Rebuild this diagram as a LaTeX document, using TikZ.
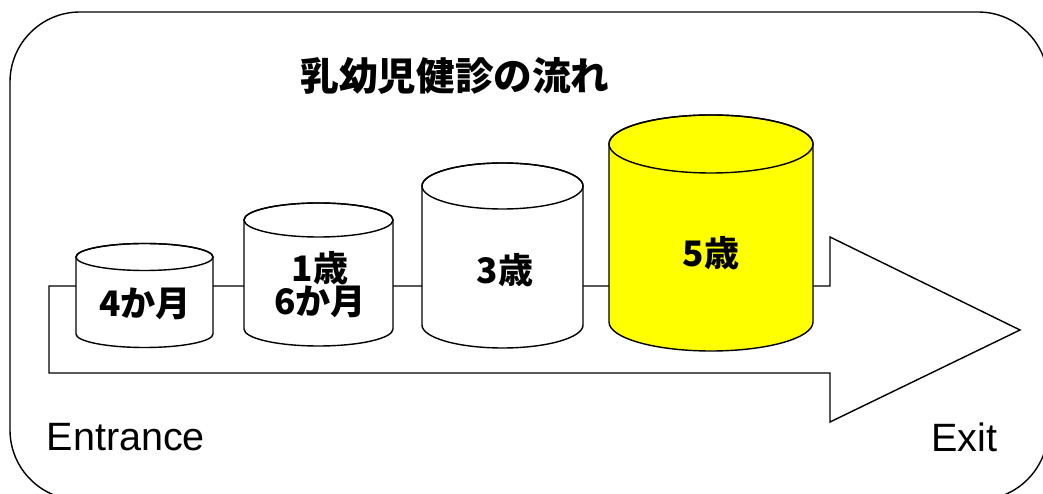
\documentclass[tikz,border=0pt]{standalone}
\usepackage{fontspec}
\setmainfont{Liberation Sans}
\newfontfamily\jp{Noto Sans CJK JP}
\usepackage{tikz}
\usetikzlibrary{calc}
\definecolor{checkyellow}{RGB}{255,255,0}
\def\drum[#1](#2,#3)(#4:#5:#6){\draw[#1] ({#2-#5},#3) -- ({#2-#5},#4) arc[start angle=180, end angle=360, x radius=#5, y radius=#6] -- ({#2+#5},#3) arc[start angle=0, end angle=180, x radius=#5, y radius=#6] -- cycle; \draw (#2,#3) ellipse [x radius=#5, y radius=#6];}
\tikzset{
  agelabel/.style={font=\jp\bfseries\fontsize{20pt}{22pt}\selectfont, align=center, inner sep=0pt},
  endlabel/.style={font=\fontsize{22.5pt}{25pt}\selectfont, inner sep=0pt}
}

\begin{document}
\begin{tikzpicture}[x=0.02cm, y=0.02cm, line width=0.8pt]
			%%%%% FRAME %%%%%
			\useasboundingbox (0, 0) rectangle (1043, 493);
			\draw[rounded corners=1.4cm] (10, -7) rectangle (1048, 481);
			
			\node[font=\jp\bfseries\fontsize{22pt}{24pt}\selectfont] (title) at (455, 417) {乳幼児健診の流れ};
			
			%%%%% ARROW %%%%%
			\draw[fill=white] (49, 207) -- (830, 207) -- (830, 256) -- (1020, 163) -- (830, 71) -- (830, 120) -- (49, 120) -- cycle;
			
			%%%%% DRUMS %%%%%
			\drum[fill=white](144.5,236)(159:68.5:13.5)
			\drum[fill=white](318.5,273)(164:74.5:17)
			\drum[fill=white](502.5,307)(168:80.5:23)
			\drum[fill=checkyellow](711,349)(171:102:29)
			
			\node[agelabel] (m4) at (145, 189) {4か月};
			\node[agelabel] (y1) at (320, 225) {1歳};
			\node[agelabel] (m6) at (320, 191) {6か月};
			\node[agelabel] (y3) at (505, 223) {3歳};
			\node[agelabel] (y5) at (711, 240) {5歳};
			
			\node[endlabel, anchor=west] (entrance) at (46, 56) {Entrance};
			\node[endlabel, anchor=east] (exit) at (998, 56) {Exit};
			
			%%%%% END %%%%%
\end{tikzpicture}
\end{document}
